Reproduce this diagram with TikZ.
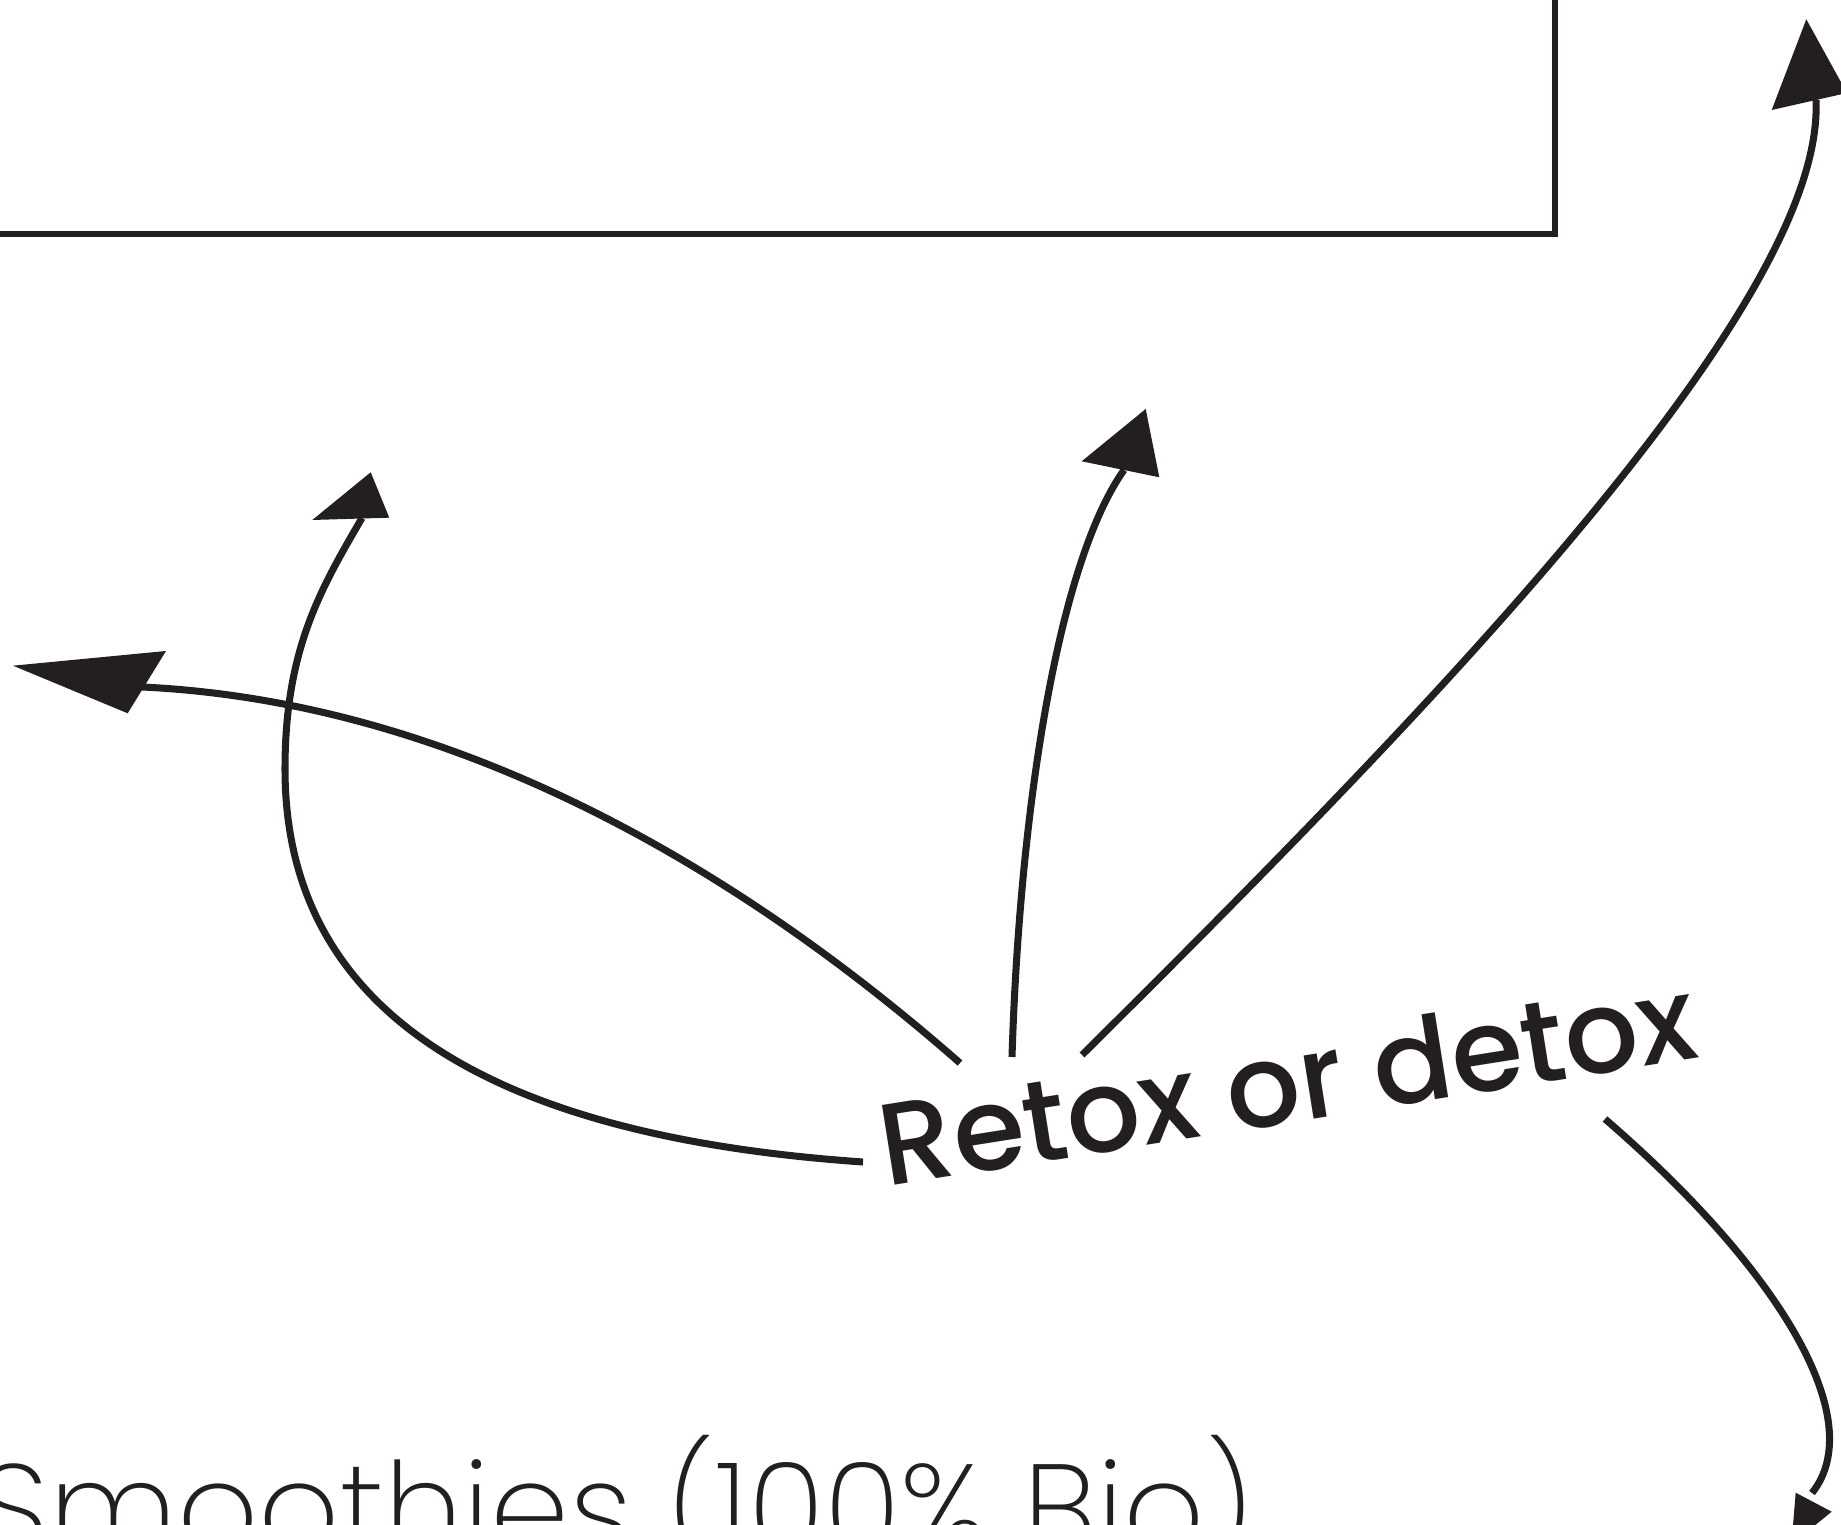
\documentclass[tikz,border=0pt]{standalone}
\usepackage{fontspec}
\newfontfamily\retoxfont{Poppins Medium}
\newfontfamily\thinfont{Poppins ExtraLight}
\definecolor{ink}{HTML}{231F20}
\tikzset{
  curve/.style={draw=ink, line width=2pt},
  head/.style={fill=ink},
  box/.style={draw=ink, line width=1.7pt},
  retoxtext/.style={inner sep=0pt, text=ink, font={\retoxfont\fontsize{33pt}{33pt}\selectfont}},
  thintext/.style={inner sep=0pt, text=ink, font={\thinfont\fontsize{36pt}{36pt}\selectfont}},
}
\begin{document}
\begin{tikzpicture}[x=0.01cm, y=-0.01cm]
\useasboundingbox (0,0) rectangle (1841,1525);
\clip (0,0) rectangle (1841,1525);
% frame at top
\draw[box] (-20,-20) rectangle (1555.3,234.2);
% labels
\node[retoxtext, rotate=9, anchor=base west] (retox) at (886,1187) {Retox or detox};
\node[thintext, anchor=base east] (smooth) at (1254,1554) {Smoothies (100\% Bio)};
% connector end points
\coordinate (s1) at (1082,1055); \coordinate (e1) at (1816,100);
\coordinate (s2) at (1012,1057); \coordinate (e2) at (1124,470);
\coordinate (s3) at (863,1162);  \coordinate (m3) at (285,769); \coordinate (e3) at (362,518);
\coordinate (s4) at (960,1063);  \coordinate (e4) at (142,687);
\coordinate (s5) at (1605,1119); \coordinate (e5) at (1812,1493);
% connectors
\draw[curve] (s1) .. controls (1450,690) and (1825,300) .. (e1);
\draw[curve] (s2) .. controls (1020,800) and (1060,560) .. (e2);
\draw[curve] (s3) .. controls (470,1135) and (285,1000) .. (m3) .. controls (285,650) and (320,590) .. (e3);
\draw[curve] (s4) .. controls (700,835) and (420,700) .. (e4);
\draw[curve] (s5) .. controls (1780,1270) and (1870,1420) .. (e5);
% arrow heads
\fill[head] (1806.3,19.3) -- (1771.7,110) -- (1847,93) -- cycle;
\fill[head] (1145.7,409) -- (1081.7,461.3) -- (1159.3,477.3) -- cycle;
\fill[head] (370.7,472.3) -- (312.3,520) -- (389.3,517.7) -- cycle;
\fill[head] (13,665.7) -- (166,651) -- (127.7,713.3) -- cycle;
\fill[head] (1791.4,1544.5) -- (1795.7,1492.7) -- (1831.7,1511.7) -- cycle;
\end{tikzpicture}
\end{document}
